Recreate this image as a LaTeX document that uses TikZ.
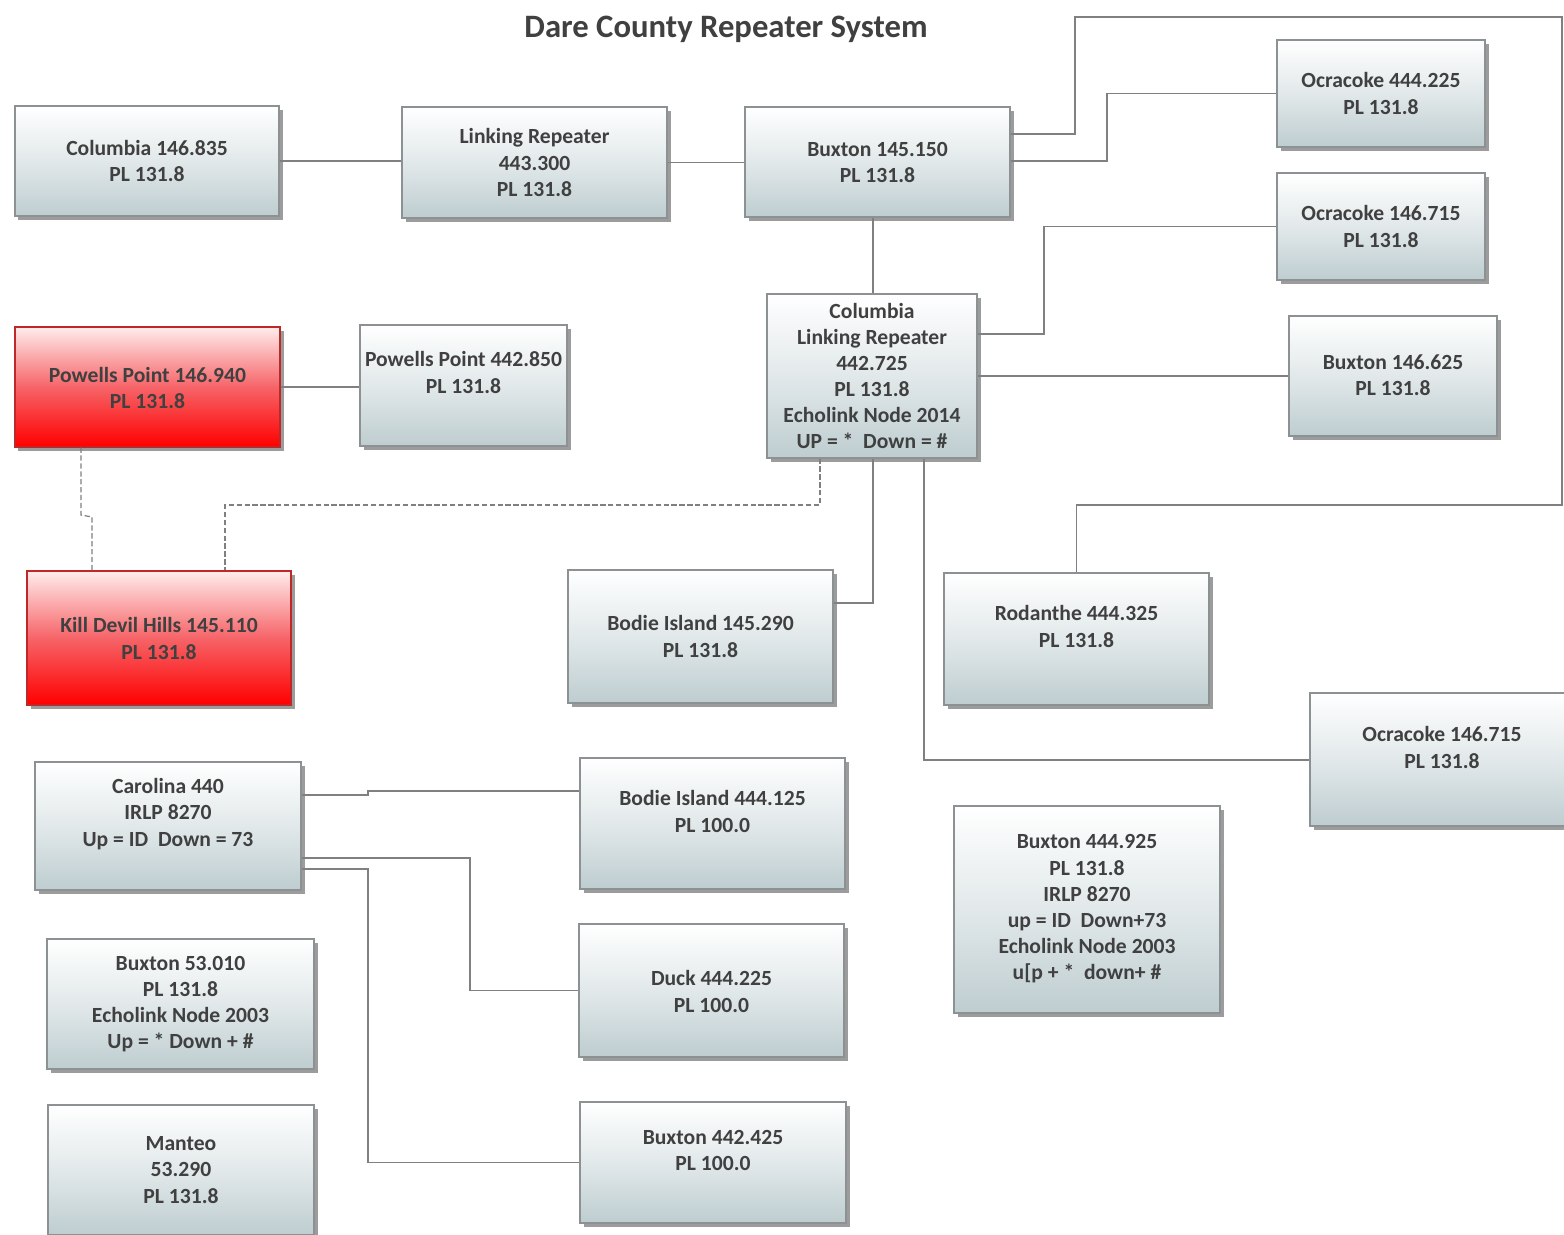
\documentclass[tikz,border=0pt]{standalone}
\usepackage{fontspec}
\setmainfont{Carlito}
\usetikzlibrary{shadows}
\definecolor{txtc}{RGB}{64,64,64}
\definecolor{boxbot}{RGB}{190,205,208}
\definecolor{boxedge}{RGB}{140,145,148}
\definecolor{redtop}{RGB}{255,236,236}
\definecolor{redmid}{RGB}{246,100,104}
\definecolor{rededge}{RGB}{190,40,40}
\definecolor{linec}{RGB}{128,128,128}
\newcommand\pxu{0.02cm}
\newcommand\repnode[8]{%
  \node[#2, minimum width=#5*\pxu, minimum height=#6*\pxu] (#1) at (#3,#4) {};
  \node[txt] (#1-t) at (#3,#7) {#8};
}
\begin{document}
\begin{tikzpicture}[x=0.02cm, y=-0.02cm,
  basebox/.style={rectangle, inner sep=0pt, line width=0.6pt,
    drop shadow={shadow xshift=0.07cm, shadow yshift=-0.07cm, opacity=0.55, fill=black!70}},
  bluebox/.style={basebox, draw=boxedge, top color=white, bottom color=boxbot, middle color=white!55!boxbot},
  redbox/.style={basebox, draw=rededge, top color=redtop, bottom color=red, middle color=redmid},
  txt/.style={inner sep=0pt, align=center, text=txtc, font=\fontsize{12.3}{14.9}\selectfont\bfseries},
  conn/.style={draw=linec, line width=0.8pt},
  dconn/.style={draw=linec, line width=0.7pt, dashed, dash pattern=on 3pt off 1.5pt}]
\useasboundingbox[fill=white] (0,0) rectangle (1564,1234);

\node[text=txtc, font=\fontsize{18.6}{22}\selectfont\bfseries] (title) at (726,29) {Dare County Repeater System};

% connectors (drawn first, boxes on top)
\coordinate (c1) at (1075,134);
\coordinate (c2) at (1107,161);
\coordinate (c3) at (1044,334);
\coordinate (c4) at (873,603);
\coordinate (c5) at (924,760);
\coordinate (c6) at (820,505);
\coordinate (c7) at (225,505);
\coordinate (c8) at (81,515);
\coordinate (c9) at (92,517);
\coordinate (c10) at (368,795);
\coordinate (c11) at (470,858);
\coordinate (c12) at (368,869);

\repnode{col}{bluebox}{147}{161}{264}{110}{161}{Columbia 146.835\\PL 131.8}
\repnode{link}{bluebox}{534.5}{162.5}{265}{111}{162.5}{Linking Repeater\\443.300\\PL 131.8}
\repnode{bux}{bluebox}{877.5}{162}{265}{110}{162.5}{Buxton 145.150\\PL 131.8}
\repnode{oca}{bluebox}{1381}{93.5}{208}{107}{93.5}{Ocracoke 444.225\\PL 131.8}
\repnode{ocb}{bluebox}{1381}{226.5}{208}{107}{226.5}{Ocracoke 146.715\\PL 131.8}
\repnode{clink}{bluebox}{872}{376}{210}{164}{376}{Columbia\\Linking Repeater\\442.725\\PL 131.8\\Echolink Node 2014\\UP = *~~Down = \#}
\repnode{buxb}{bluebox}{1393}{376}{208}{120}{375.5}{Buxton 146.625\\PL 131.8}
\repnode{ppa}{redbox}{147.5}{387}{265}{120}{388}{Powells Point 146.940\\PL 131.8}
\repnode{ppb}{bluebox}{463.5}{385.5}{207}{121}{372.5}{Powells Point 442.850\\PL 131.8}
\repnode{kdh}{redbox}{159}{638}{264}{134}{638.5}{Kill Devil Hills 145.110\\PL 131.8}
\repnode{bia}{bluebox}{700.5}{636.5}{265}{133}{636.5}{Bodie Island 145.290\\PL 131.8}
\repnode{rod}{bluebox}{1076.5}{639}{265}{132}{626.5}{Rodanthe 444.325\\PL 131.8}
\repnode{occ}{bluebox}{1442}{759.5}{264}{133}{747.5}{Ocracoke 146.715\\PL 131.8}
\repnode{buxc}{bluebox}{1087}{909.5}{266}{207}{909}{Buxton 444.925\\PL 131.8\\IRLP 8270\\up = ID~~Down+73\\Echolink Node 2003\\u[p + *~~down+ \#}
\repnode{car}{bluebox}{168}{826}{266}{128}{814}{Carolina 440\\IRLP 8270\\Up = ID~~Down = 73}
\repnode{bib}{bluebox}{712.5}{823.5}{265}{131}{811.5}{Bodie Island 444.125\\PL 100.0}
\repnode{buxd}{bluebox}{180.5}{1004}{267}{130}{1004}{Buxton 53.010\\PL 131.8\\Echolink Node 2003\\Up = * Down + \#}
\repnode{duck}{bluebox}{711.5}{990.5}{265}{133}{991.5}{Duck 444.225\\PL 100.0}
\repnode{man}{bluebox}{181}{1170}{266}{130}{1170}{Manteo\\53.290\\PL 131.8}
\repnode{buxe}{bluebox}{713}{1162.5}{266}{121}{1150.5}{Buxton 442.425\\PL 100.0}

\begin{scope}[on background layer/.try]
\end{scope}

% solid connectors
\path[conn] (col.east) -- (link.west |- col.east);
\path[conn] (link.east) -- (bux.west |- link.east);
\path[conn] (bux.east |- c1) -- (c1) -- (1075,17) -- (1562,17) -- (1562,505) -- (rod.north |- c6) -- (rod.north);
\path[conn] (bux.east |- c2) -- (c2) |- (oca.west);
\path[conn] (c4 |- bux.south) -- (c4 |- clink.north);
\path[conn] (clink.east |- c3) -- (c3) |- (ocb.west);
\path[conn] (clink.east) -- (buxb.west);
\path[conn] (c4 |- clink.south) -- (c4) -- (bia.east |- c4);
\path[conn] (c5 |- clink.south) -- (c5) -- (occ.west |- c5);
\path[conn] (ppa.east) -- (ppb.west |- ppa.east);
\path[conn] (car.east |- c10) -- (c10) -- (368,791) -- (bib.west |- 0,791);
\path[conn] (car.east |- c11) -- (c11) |- (duck.west);
\path[conn] (car.east |- c12) -- (c12) |- (buxe.west);
% dashed connectors
\path[dconn] (c6 |- clink.south) -- (c6) -- (c7) -- (c7 |- kdh.north);
\path[dconn] (c8 |- ppa.south) -- (c8) -- (c9) -- (c9 |- kdh.north);
\end{tikzpicture}
\end{document}
